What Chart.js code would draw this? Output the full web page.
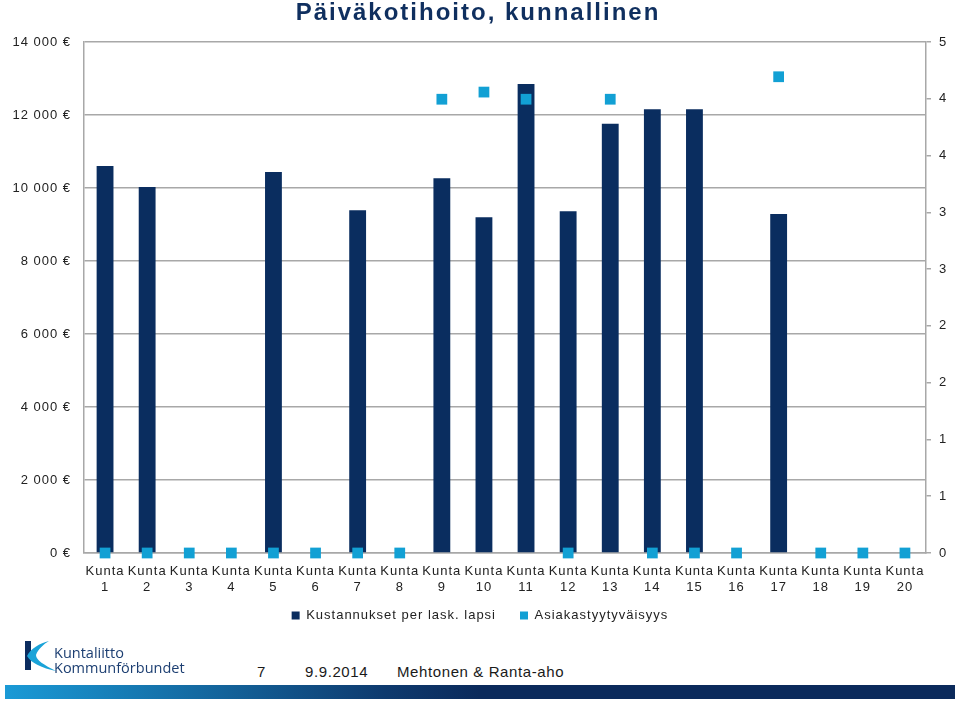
<!DOCTYPE html>
<html>
<head>
<meta charset="utf-8">
<script src="https://cdn.jsdelivr.net/npm/chart.js@4/dist/chart.umd.min.js"></script>
<style>
  html, body { margin:0; padding:0; background:#fff; }
  body { width:960px; height:701px; position:relative; overflow:hidden; font-family:"Liberation Sans", Arial, sans-serif; }
  #wrap { position:absolute; left:0; top:0; width:960px; height:648px; }
  #title { position:absolute; left:0; width:956px; top:-2px; text-align:center; font-weight:bold; font-size:24px; letter-spacing:2px; color:#0f2f5f; }
  .ft { position:absolute; top:663px; font-size:15px; letter-spacing:0.6px; color:#1a1a1a; }
  #bar { position:absolute; left:5px; top:685px; width:950px; height:14px; background:linear-gradient(to right, #1a9ad6 0%, #0e3a6e 40%, #0b2a5b 50%, #0b2a5b 100%); }
  #logoText { position:absolute; left:54px; top:645px; font-family:"Open Sans", sans-serif; font-size:14.5px; line-height:15px; color:#1d3f72; }
</style>
</head>
<body>
<div id="wrap"><canvas id="c" width="960" height="648"></canvas></div>
<div id="title">Päiväkotihoito, kunnallinen</div>
<svg style="position:absolute;left:0;top:630px" width="60" height="50">
  <rect x="25" y="11" width="6" height="29" fill="#0b2c5f"/>
  <path d="M49,11 C40,13 30,19 27,26 C31,33 42,38 56,41 C44,35 36,30 36,25 C38,19 44,14 49,11 Z" fill="#1aa3d8"/>
</svg>
<div id="logoText">Kuntaliitto<br>Kommunförbundet</div>
<div class="ft" style="left:257px">7</div>
<div class="ft" style="left:305px">9.9.2014</div>
<div class="ft" style="left:397px">Mehtonen &amp; Ranta-aho</div>
<div id="bar"></div>
<script>
const categories = ["Kunta 1","Kunta 2","Kunta 3","Kunta 4","Kunta 5","Kunta 6","Kunta 7","Kunta 8","Kunta 9","Kunta 10",
  "Kunta 11","Kunta 12","Kunta 13","Kunta 14","Kunta 15","Kunta 16","Kunta 17","Kunta 18","Kunta 19","Kunta 20"];
const costs = [10600, 10030, 0, 0, 10440, 0, 9390, 0, 10270, 9200,
  12850, 9360, 11760, 12160, 12160, 0, 9290, 0, 0, 0];
const satisfaction = [0, 0, 0, 0, 0, 0, 0, 0, 4.44, 4.51,
  4.44, 0, 4.44, 0, 0, 0, 4.66, 0, 0, 0];
const leftTicks = [0, 2000, 4000, 6000, 8000, 10000, 12000, 14000];
const rightTicks = [0, 0.556, 1.111, 1.667, 2.222, 2.778, 3.333, 3.889, 4.444, 5];
const rightTickLabels = ["0", "1", "1", "2", "2", "3", "3", "4", "4", "5"];
const seriesNames = ["Kustannukset per lask. lapsi", "Asiakastyytyväisyys"];

const NAVY = "#0a2d5f", BLUE = "#12a0d4", GRID = "#a8a8a8", TXT = "#222222";
const spacing = { id:"spacing",
  beforeUpdate(ch){ ch.ctx.letterSpacing = "1px"; },
  beforeDraw(ch){ ch.ctx.letterSpacing = "1px"; } };
const legendShift = { id:"legendShift",
  afterLayout(ch){ if (ch.legend) { ch.legend.top -= 16; ch.legend.bottom -= 16; } } };

const fmt = v => String(v).replace(/\B(?=(\d{3})+(?!\d))/g, " ") + " €";

new Chart(document.getElementById("c"), {
  data: {
    labels: categories.map(c => c.split(" ")),
    datasets: [
      { type:"bar", label: seriesNames[0], data: costs, backgroundColor: NAVY, yAxisID:"y",
        barPercentage: 0.4, categoryPercentage: 1, order: 2 },
      { type:"line", label: seriesNames[1], data: satisfaction, yAxisID:"y2", showLine:false, clip:false,
        pointStyle:"rect", pointRadius:7.6, pointHoverRadius:7.6, backgroundColor: BLUE, borderWidth:0,
        borderColor: BLUE, order: 1 }
    ]
  },
  options: {
    responsive:false, animation:false, devicePixelRatio:1,
    layout: { padding: { top:42, left:0, right:0, bottom:0 } },
    plugins: {
      tooltip:{ enabled:false },
      legend: { position:"bottom",
        labels: { color: TXT, font:{ family:"Liberation Sans", size:13 }, boxWidth:8, boxHeight:8,
          padding: 24, sort: (a, b) => a.datasetIndex - b.datasetIndex } }
    },
    scales: {
      x: { grid:{ display:false, drawTicks:false }, border:{ color: GRID, width:1.5 },
        ticks:{ color: TXT, font:{ family:"Liberation Sans", size:13, lineHeight:1.25 }, maxRotation:0, autoSkip:false, padding:10 },
        afterFit(s){ s.height = 48; } },
      y: { position:"left", min:0, max:14000,
        grid:{ color: GRID, lineWidth:1.5, drawTicks:false }, border:{ color: GRID, width:1.5 },
        ticks:{ color: TXT, font:{ family:"Liberation Sans", size:13 }, padding:13, callback: v => fmt(v) },
        afterBuildTicks(s){ s.ticks = leftTicks.map(v => ({ value:v })); },
        afterFit(s){ s.width = 84; } },
      y2: { position:"right", min:0, max:5,
        grid:{ drawOnChartArea:false, color: GRID, lineWidth:1.5, tickLength:5 }, border:{ color: GRID, width:1.5 },
        ticks:{ color: TXT, font:{ family:"Liberation Sans", size:13 }, padding:8,
          callback: (v, i) => rightTickLabels[i] },
        afterBuildTicks(s){ s.ticks = rightTicks.map(v => ({ value:v })); },
        afterFit(s){ s.width = 34; } }
    }
  },
  plugins: [spacing, legendShift]
});
</script>
</body>
</html>
